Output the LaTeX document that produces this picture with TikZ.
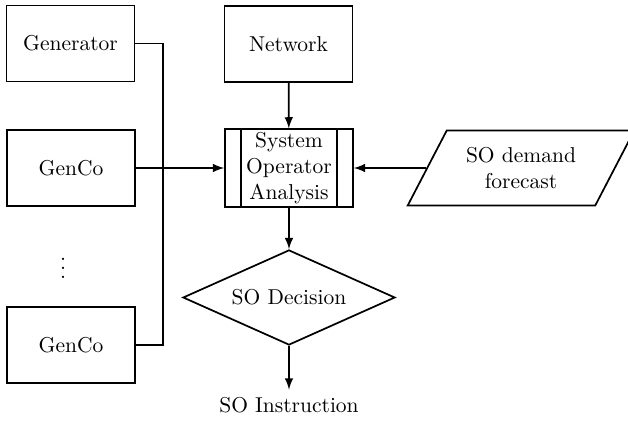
\documentclass[tikz,border=0pt]{standalone}
\usepackage{amsmath}
\usepackage{tikz}
\usetikzlibrary{positioning}
\usetikzlibrary{shapes.geometric}
\tikzset{
  blockbox/.style={rectangle, draw=black, thick, minimum width=59.5pt, minimum height=35.3pt},
  procbox/.style={rectangle, draw=black, thick, minimum width=59.5pt, minimum height=36pt, inner sep=1pt, align=center,
    path picture={
      \draw [thick] ([xshift=7.4pt]path picture bounding box.north west) -- ([xshift=7.4pt]path picture bounding box.south west);
      \draw [thick] ([xshift=-7.4pt]path picture bounding box.north east) -- ([xshift=-7.4pt]path picture bounding box.south east);
    }},
  databox/.style={trapezium, trapezium left angle=62.5, trapezium right angle=117.5, draw=black, thick,
    inner xsep=0pt, minimum width=79.5pt, minimum height=34.9pt, align=center},
  decbox/.style={diamond, draw=black, thick, aspect=2.2, minimum width=98.6pt, minimum height=44.2pt, inner sep=1pt},
  flow/.style={thick, ->, >=latex}
}
\begin{document}
\begin{tikzpicture}[scale=0.465]
\useasboundingbox (0pt, 0pt) rectangle (628pt, -421pt);
\node (gen) [blockbox] at (70.5pt, -43.5pt) {Generator};
\node (net) [blockbox] at (288.5pt, -44pt) {Network};
\node (genco1) [blockbox] at (71pt, -168pt) {GenCo};
\node (dots) at (63pt, -262pt) {$\vdots$};
\node (genco2) [blockbox] at (71pt, -345pt) {GenCo};
\node (soa) [procbox] at (289pt, -168pt) {System\\Operator\\Analysis};
\node (demand) [databox] at (521pt, -168pt) {SO demand\\forecast};
\node (dec) [decbox] at (289pt, -297.5pt) {SO Decision};
\node (instr) at (289pt, -405pt) {SO Instruction};
\coordinate (bus) at (163pt, -168pt);
\draw [thick] (gen.east) -| (bus) |- (genco2.east);
\draw [flow] (genco1) -- (soa);
\draw [flow] (net) -- (soa);
\draw [flow] (demand) -- (soa);
\draw [flow] (soa) -- (dec);
\draw [flow] (dec) -- (instr);
\end{tikzpicture}
\end{document}
